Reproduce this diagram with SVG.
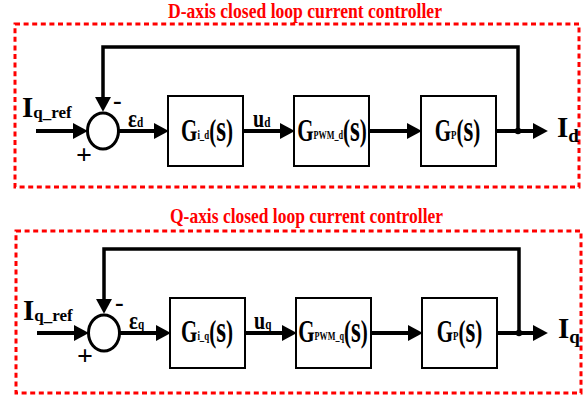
<svg xmlns="http://www.w3.org/2000/svg" width="586" height="398" viewBox="0 0 586 398">
  <style>
    .frame { fill: none; stroke: #ff0000; stroke-width: 3; stroke-dasharray: 5 3.6; }
    .title { font-family: "Liberation Serif", "Times New Roman", serif; font-weight: bold; font-size: 21px; fill: #ff0000; }
    .box { fill: #ffffff; stroke: #000000; stroke-width: 2; }
    .sum { fill: #ffffff; stroke: #000000; stroke-width: 3; }
    .wire { fill: none; stroke: #000000; stroke-width: 4; }
    .fb { fill: none; stroke: #000000; stroke-width: 3.5; }
    .lbl { font-family: "Liberation Serif", "Times New Roman", serif; font-weight: bold; fill: #000000; }
    .tf { font-family: "Liberation Serif", "Times New Roman", serif; font-weight: bold; fill: #000000; text-anchor: middle; }
  </style>
  <defs>
    <marker id="head" markerUnits="userSpaceOnUse" markerWidth="16" markerHeight="16" viewBox="0 0 15 15" refX="1" refY="7.5" orient="auto">
      <path d="M0,0 L14,7.5 L0,15 Z" fill="#000000"/>
    </marker>
  </defs>

  <!-- D-axis loop -->
  <g id="d-frame">
    <rect class="frame" x="15" y="24" width="564" height="163"/>
    <text class="title" x="168" y="18" textLength="274" lengthAdjust="spacingAndGlyphs">D-axis closed loop current controller</text>
  </g>

  <g id="d-connectors">
    <path class="wire" d="M36,131 H74" marker-end="url(#head)"/>
    <path class="fb" d="M518,131 V47 H103 V98" marker-end="url(#head)"/>
    <path class="wire" d="M118.5,131 H155" marker-end="url(#head)"/>
    <path class="wire" d="M243,131 H281" marker-end="url(#head)"/>
    <path class="wire" d="M369,131 H408" marker-end="url(#head)"/>
    <path class="wire" d="M496,131 H534" marker-end="url(#head)"/>
    <circle cx="518" cy="131" r="3.2" fill="#000000"/>
    <text class="lbl" transform="translate(128,127) scale(0.8,1)"><tspan font-size="26">ε</tspan><tspan font-size="14">d</tspan></text>
    <text class="lbl" transform="translate(253,127) scale(0.8,1)"><tspan font-size="25">u</tspan><tspan font-size="14">d</tspan></text>
  </g>

  <g id="d-ref">
    <text class="lbl" x="22" y="117"><tspan font-size="29">I</tspan><tspan font-size="17" dy="1">q_ref</tspan></text>
  </g>

  <g id="d-sum">
    <ellipse class="sum" cx="103" cy="131" rx="15.5" ry="18"/>
    <text class="lbl" x="113" y="109" font-size="26">-</text>
    <text class="lbl" x="76" y="164" font-size="28">+</text>
  </g>

  <g id="d-gi">
    <rect class="box" x="168" y="96" width="75" height="70"/>
    <text class="tf" transform="translate(207,141) scale(0.68,1)"><tspan font-size="31">G</tspan><tspan font-size="13" dy="-2">i_d</tspan><tspan font-size="31" dy="2">(</tspan><tspan font-size="37">s</tspan><tspan font-size="31">)</tspan></text>
  </g>

  <g id="d-gpwm">
    <rect class="box" x="294" y="96" width="75" height="70"/>
    <text class="tf" transform="translate(332,141) scale(0.68,1)"><tspan font-size="31">G</tspan><tspan font-size="12" dy="-2">PWM_d</tspan><tspan font-size="31" dy="2">(</tspan><tspan font-size="37">s</tspan><tspan font-size="31">)</tspan></text>
  </g>

  <g id="d-gp">
    <rect class="box" x="421" y="96" width="75" height="70"/>
    <text class="tf" transform="translate(457.5,141) scale(0.68,1)"><tspan font-size="31">G</tspan><tspan font-size="13" dy="-2">P</tspan><tspan font-size="31" dy="2">(</tspan><tspan font-size="37">s</tspan><tspan font-size="31">)</tspan></text>
  </g>

  <g id="d-out">
    <text class="lbl" x="557" y="137"><tspan font-size="29">I</tspan><tspan font-size="19" dy="5">d</tspan></text>
  </g>

  <!-- Q-axis loop -->
  <g id="q-frame">
    <rect class="frame" x="16" y="231" width="565" height="162"/>
    <text class="title" x="170" y="223" textLength="273" lengthAdjust="spacingAndGlyphs">Q-axis closed loop current controller</text>
  </g>

  <g id="q-connectors">
    <path class="wire" d="M37,333 H75" marker-end="url(#head)"/>
    <path class="fb" d="M519,333 V249 H104 V300" marker-end="url(#head)"/>
    <path class="wire" d="M119.5,333 H157" marker-end="url(#head)"/>
    <path class="wire" d="M245,333 H283" marker-end="url(#head)"/>
    <path class="wire" d="M371,333 H409" marker-end="url(#head)"/>
    <path class="wire" d="M497,333 H534" marker-end="url(#head)"/>
    <circle cx="519" cy="333" r="3.2" fill="#000000"/>
    <text class="lbl" transform="translate(129,329) scale(0.8,1)"><tspan font-size="26">ε</tspan><tspan font-size="14">q</tspan></text>
    <text class="lbl" transform="translate(254,329) scale(0.8,1)"><tspan font-size="25">u</tspan><tspan font-size="14">q</tspan></text>
  </g>

  <g id="q-ref">
    <text class="lbl" x="23" y="320"><tspan font-size="29">I</tspan><tspan font-size="17" dy="1">q_ref</tspan></text>
  </g>

  <g id="q-sum">
    <ellipse class="sum" cx="104" cy="333" rx="15.5" ry="18"/>
    <text class="lbl" x="115" y="311" font-size="26">-</text>
    <text class="lbl" x="77" y="365" font-size="28">+</text>
  </g>

  <g id="q-gi">
    <rect class="box" x="170" y="298" width="75" height="70"/>
    <text class="tf" transform="translate(207,342) scale(0.68,1)"><tspan font-size="31">G</tspan><tspan font-size="13" dy="-2">i_q</tspan><tspan font-size="31" dy="2">(</tspan><tspan font-size="37">s</tspan><tspan font-size="31">)</tspan></text>
  </g>

  <g id="q-gpwm">
    <rect class="box" x="296" y="298" width="75" height="70"/>
    <text class="tf" transform="translate(333,342) scale(0.68,1)"><tspan font-size="31">G</tspan><tspan font-size="12" dy="-2">PWM_q</tspan><tspan font-size="31" dy="2">(</tspan><tspan font-size="37">s</tspan><tspan font-size="31">)</tspan></text>
  </g>

  <g id="q-gp">
    <rect class="box" x="422" y="298" width="75" height="70"/>
    <text class="tf" transform="translate(459.5,342) scale(0.68,1)"><tspan font-size="31">G</tspan><tspan font-size="13" dy="-2">P</tspan><tspan font-size="31" dy="2">(</tspan><tspan font-size="37">s</tspan><tspan font-size="31">)</tspan></text>
  </g>

  <g id="q-out">
    <text class="lbl" x="558" y="338"><tspan font-size="29">I</tspan><tspan font-size="19" dy="5">q</tspan></text>
  </g>
</svg>
